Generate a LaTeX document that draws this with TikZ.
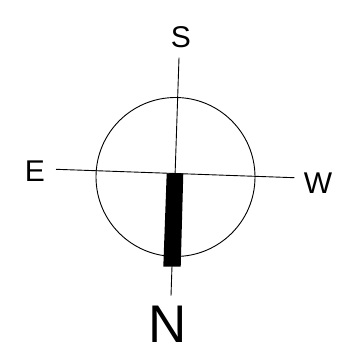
\documentclass[tikz,border=0pt]{standalone}
\usepackage{fontspec}
\setmainfont{Liberation Sans}
\begin{document}
\begin{tikzpicture}[x=1pt,y=1pt,line width=0.9pt]
  \useasboundingbox (0,0) rectangle (361,351);
  \draw (175.5,174) circle (79.5);
  \coordinate (axisTop) at (179,293.3);
  \coordinate (axisBot) at (171,55.3);
  \coordinate (axisLeft) at (56,181.7);
  \coordinate (axisRight) at (294.3,173.3);
  \draw (axisTop) -- (axisBot);
  \draw (axisLeft) -- (axisRight);
  \fill (166.7,177.7) -- (183.3,177.7) -- (180.7,84.3) -- (163.3,84.3) -- cycle;
  \node[align=center, font=\fontsize{30}{36}\selectfont] (labelS) at (181,314) {S};
  \node[align=center, font=\fontsize{30}{36}\selectfont] (labelE) at (35,180.3) {E};
  \node[align=center, font=\fontsize{30}{36}\selectfont] (labelW) at (318,168) {W};
  \node[align=center, inner sep=0pt, anchor=base, font=\fontsize{53}{60}\selectfont] (labelN) at (168,8.5) {N};
\end{tikzpicture}
\end{document}
